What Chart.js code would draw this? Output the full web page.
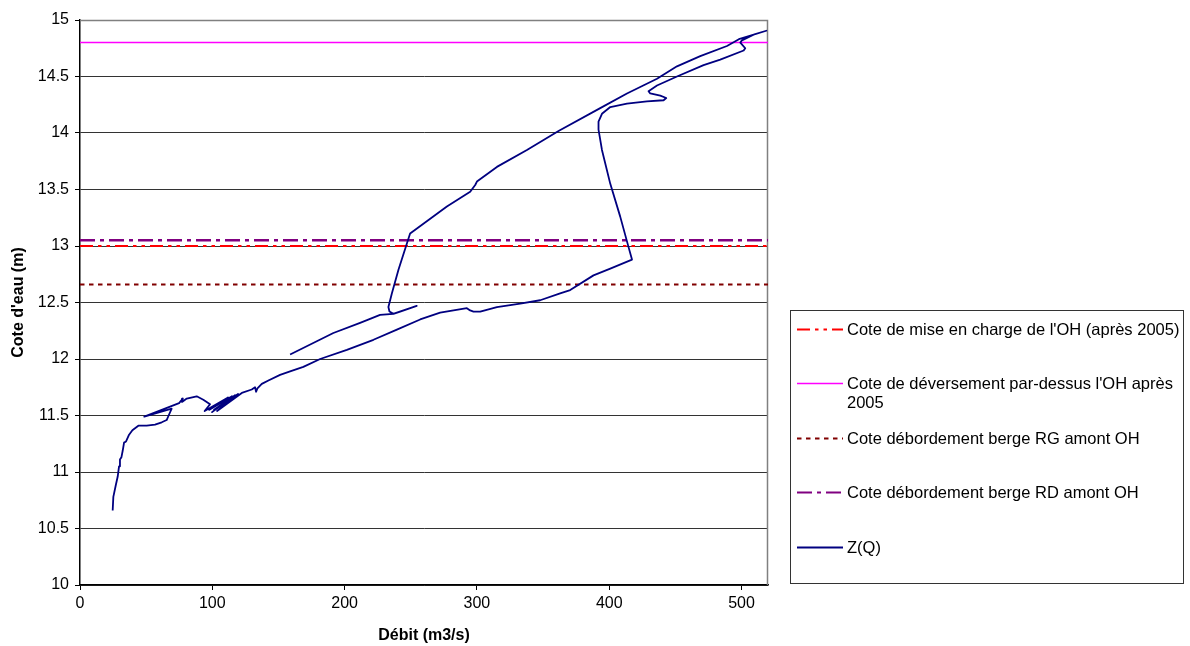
<!DOCTYPE html>
<html>
<head>
<meta charset="utf-8">
<script src="https://cdn.jsdelivr.net/npm/chart.js@4/dist/chart.umd.min.js"></script>
<style>
html,body{margin:0;padding:0;background:#fff;}
#wrap{width:1190px;height:646px;position:relative;}
</style>
</head>
<body>
<div id="wrap"><canvas id="c" width="1190" height="646"></canvas></div>
<script>
// ---- Data ----
const zqDebit = [24.7,25.2,27.0,28.5,29.5,30.2,31.3,32.3,33.3,34.8,37.1,39.6,44.1,50.4,56.7,61.8,65.5,67.0,69.3,48.6,
  74.9,77.7,77.1,80.7,88.2,93.2,98.3,
  94.2,111.9,97.5,114.9,99.8,117.2,101.3,119.5,103.6,122.3,
  129.8,132.3,133.1,134.1,137.4,142.4,151.2,158.8,168.8,181.5,201.7,221.8,239.5,257.1,272.2,292.4,294.9,297.4,302.5,315.1,332.7,347.8,362.9,
  370.5,388.1,400.8,417.2,414.6,408.3,400.8,394.5,391.9,391.9,394.5,400.8,413.4,428.5,441.1,443.1,438.6,431.0,429.7,436.1,451.2,471.3,483.9,501.6,502.8,499.1,500.3,509.1,518.7,
  498.0,489.0,468.8,451.2,436.1,413.4,393.2,362.0,337.8,315.1,300.0,298.7,294.9,277.3,249.5,247.0,240.7,235.7,233.1,233.9,236.9,242.0,254.5,244.5,236.7,226.8,211.7,191.5,158.8];
const zqCote = [10.66,10.78,10.88,10.96,11.05,11.11,11.13,11.19,11.26,11.27,11.33,11.37,11.41,11.41,11.42,11.44,11.46,11.50,11.56,11.49,
  11.61,11.65,11.62,11.65,11.67,11.64,11.60,
  11.54,11.66,11.55,11.67,11.53,11.68,11.55,11.69,11.54,11.70,
  11.73,11.75,11.71,11.74,11.78,11.81,11.86,11.89,11.93,12.00,12.08,12.17,12.26,12.35,12.41,12.45,12.43,12.42,12.42,12.46,12.49,12.52,12.58,
  12.61,12.74,12.80,12.88,12.99,13.26,13.55,13.85,14.03,14.10,14.17,14.23,14.26,14.28,14.29,14.31,14.33,14.35,14.37,14.42,14.50,14.60,14.65,14.73,14.75,14.80,14.82,14.87,14.905,
  14.83,14.77,14.68,14.59,14.48,14.35,14.22,14.02,13.85,13.70,13.57,13.54,13.48,13.35,13.11,13.02,12.79,12.58,12.46,12.42,12.40,12.42,12.47,12.43,12.40,12.39,12.32,12.23,12.04];

const levelNames = [
  "Cote de mise en charge de l'OH (après 2005)",
  "Cote de déversement par-dessus l'OH après 2005",
  "Cote débordement berge RG amont OH",
  "Cote débordement berge RD amont OH"
];
const levelValues = [13.0, 14.8, 12.66, 13.05];
const seriesName = "Z(Q)";
const xLimits = [0, 520];
const yLimits = [10, 15];
const xTitle = "Débit (m3/s)";
const yTitle = "Cote d'eau (m)";

// ---- Styles ----
const FONT = "'Liberation Sans', Arial, sans-serif";
const levelStyles = [
  {color:'#FF0000', width:2, dash:[13,5,3.5,5,3.5,5]},
  {color:'#FF00FF', width:1.5, dash:[]},
  {color:'#800000', width:2, dash:[4.5,4.5]},
  {color:'#800080', width:2.5, dash:[15,5,4,5]}
];
const zqStyle = {color:'#000080', width:1.8, dash:[]};

const datasets = levelValues.map((v,i)=>({
  label: levelNames[i],
  data: [{x:xLimits[0], y:v},{x:xLimits[1], y:v}],
  borderColor: levelStyles[i].color,
  borderWidth: levelStyles[i].width,
  borderDash: levelStyles[i].dash,
  pointRadius: 0,
  fill: false,
  tension: 0,
  order: 1
}));
datasets.push({
  label: seriesName,
  data: zqDebit.map((x,i)=>({x:x, y:zqCote[i]})),
  borderColor: zqStyle.color,
  borderWidth: zqStyle.width,
  pointRadius: 0,
  fill: false,
  tension: 0,
  borderJoinStyle: 'round',
  order: 0
});

const legendStyles = levelStyles.concat([zqStyle]);
const legendPlugin = {
  id: 'excelLegend',
  afterDraw(chart){
    const ctx = chart.ctx;
    ctx.save();
    ctx.strokeStyle = '#333';
    ctx.lineWidth = 1;
    ctx.setLineDash([]);
    ctx.strokeRect(790.5, 310.5, 393, 273);
    const names = levelNames.concat([seriesName]);
    const rows = [[329], [383, 402], [438], [492], [547]];
    const lines = [
      [names[0]],
      ["Cote de déversement par-dessus l'OH après", "2005"],
      [names[2]], [names[3]], [names[4]]
    ];
    ctx.font = '16.5px ' + FONT;
    ctx.fillStyle = '#000';
    ctx.textBaseline = 'middle';
    ctx.textAlign = 'left';
    names.forEach((n,i)=>{
      const st = legendStyles[i];
      const y = rows[i][0];
      ctx.beginPath();
      ctx.strokeStyle = st.color;
      ctx.lineWidth = Math.min(st.width, 2);
      ctx.setLineDash(st.dash);
      ctx.moveTo(797, y + 0.5);
      ctx.lineTo(843, y + 0.5);
      ctx.stroke();
      ctx.setLineDash([]);
      lines[i].forEach((t,k)=>{
        ctx.fillText(t, 847, rows[i][k] + 1);
      });
    });
    ctx.restore();
  }
};

const borderPlugin = {
  id: 'plotBorder',
  beforeDatasetsDraw(chart){
    const a = chart.chartArea;
    const ctx = chart.ctx;
    ctx.save();
    ctx.strokeStyle = '#808080';
    ctx.lineWidth = 1.5;
    ctx.beginPath();
    ctx.moveTo(a.left, a.top + 0.5);
    ctx.lineTo(a.right - 0.5, a.top + 0.5);
    ctx.lineTo(a.right - 0.5, a.bottom);
    ctx.stroke();
    ctx.restore();
  }
};

new Chart(document.getElementById('c'), {
  type: 'line',
  data: { datasets },
  plugins: [borderPlugin, legendPlugin],
  options: {
    responsive: false,
    animation: false,
    parsing: true,
    layout: { padding: { top: 20, right: 422, left: 0, bottom: 0 } },
    plugins: { legend: { display: false }, tooltip: { enabled: false } },
    scales: {
      x: {
        type: 'linear',
        min: xLimits[0], max: xLimits[1],
        afterFit(s){ s.height = 61; },
        ticks: { stepSize: 100, includeBounds: false, color: '#000', font: { family: FONT, size: 16 }, padding: 4, maxRotation: 0 },
        grid: { display: true, drawOnChartArea: false, drawTicks: true, tickLength: 5, tickColor: '#000', tickWidth: 1 },
        border: { display: true, color: '#000', width: 1.5 },
        title: { display: true, text: xTitle, color: '#000', font: { family: FONT, size: 16, weight: 'bold' }, padding: { top: 7, bottom: 1 } }
      },
      y: {
        type: 'linear',
        min: yLimits[0], max: yLimits[1],
        afterFit(s){ s.width = 80; },
        ticks: { stepSize: 0.5, includeBounds: false, color: '#000', font: { family: FONT, size: 16 }, padding: 6,
          callback: (v)=> String(v) },
        grid: { display: true, drawOnChartArea: true, drawTicks: true, tickLength: 5, tickColor: '#000',
          color: (c)=> (c.tick && c.tick.value === yLimits[1]) ? '#808080' : '#333', lineWidth: 1 },
        border: { display: true, color: '#000', width: 1.5 },
        title: { display: true, text: yTitle, color: '#000', font: { family: FONT, size: 16, weight: 'bold' }, padding: { top: 9, bottom: 0 } }
      }
    }
  }
});
</script>
</body>
</html>
